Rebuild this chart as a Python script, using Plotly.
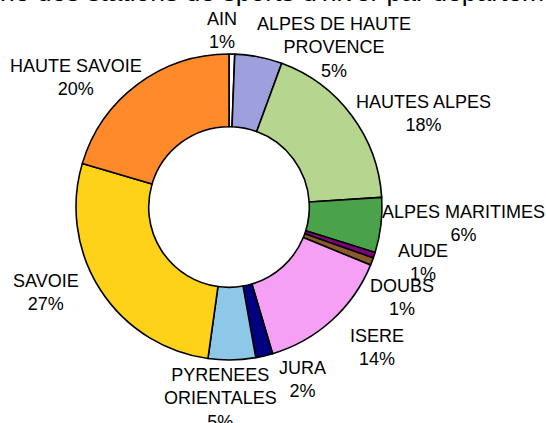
import plotly.graph_objects as go

# ---- data ----
departements = ["AIN", "ALPES DE HAUTE PROVENCE", "HAUTES ALPES", "ALPES MARITIMES", "AUDE",
                "DOUBS", "ISERE", "JURA", "PYRENEES ORIENTALES", "SAVOIE", "HAUTE SAVOIE"]
label_lines = ["AIN", "ALPES DE HAUTE<br>PROVENCE", "HAUTES ALPES", "ALPES MARITIMES", "AUDE",
               "DOUBS", "ISERE", "JURA", "PYRENEES<br>ORIENTALES", "SAVOIE", "HAUTE SAVOIE"]
parts = [0.6, 5.0, 18.4, 5.8, 0.6, 0.8, 14.2, 1.8, 5.0, 27.4, 20.4]
title_text = "ne des stations de sports d'hiver par département"

# ---- styles ----
colors = ["#FFFFFF", "#9E9FDD", "#B6D690", "#4AA24A", "#800080", "#8B5A2B",
          "#F5A0F5", "#000080", "#8EC8E8", "#FFD21A", "#FF8A2A"]
W, H = 546, 423
# label block centres (pixels)
label_pos = [(222, 31), (334, 47), (423, 114), (463, 223), (423, 262), (402, 297),
             (377, 347), (302, 379), (220, 398), (46, 292), (76, 77)]
cx, cy, r = 229, 207, 153

total = sum(parts)
fig = go.Figure(go.Pie(
    labels=departements, values=parts, sort=False, direction="clockwise", rotation=0,
    hole=0.525, textinfo="none",
    marker=dict(colors=colors, line=dict(color="black", width=1.6)),
    domain=dict(x=[(cx - r) / W, (cx + r) / W], y=[1 - (cy + r) / H, 1 - (cy - r) / H]),
    showlegend=False,
))

annotations = []
for lab, v, (px, py) in zip(label_lines, parts, label_pos):
    annotations.append(dict(
        text=f"{lab}<br>{round(v / total * 100)}%", x=px / W, y=1 - py / H,
        xref="paper", yref="paper", xanchor="center", yanchor="middle",
        showarrow=False, align="center",
        font=dict(family="Liberation Sans, Arial", size=18, color="black"),
    ))
annotations.append(dict(
    text=title_text, x=-2 / W, y=1 - 9 / H, xref="paper", yref="paper",
    xanchor="left", yanchor="bottom", showarrow=False,
    font=dict(family="Liberation Sans, Arial", size=26.5, color="black"),
))

fig.update_layout(
    width=W, height=H, margin=dict(l=0, r=0, t=0, b=0),
    paper_bgcolor="white", plot_bgcolor="white",
    annotations=annotations,
)
fig.write_html("out.html", config={"displayModeBar": False},
               post_script="document.body.style.margin='0';document.body.style.overflow='hidden';")
